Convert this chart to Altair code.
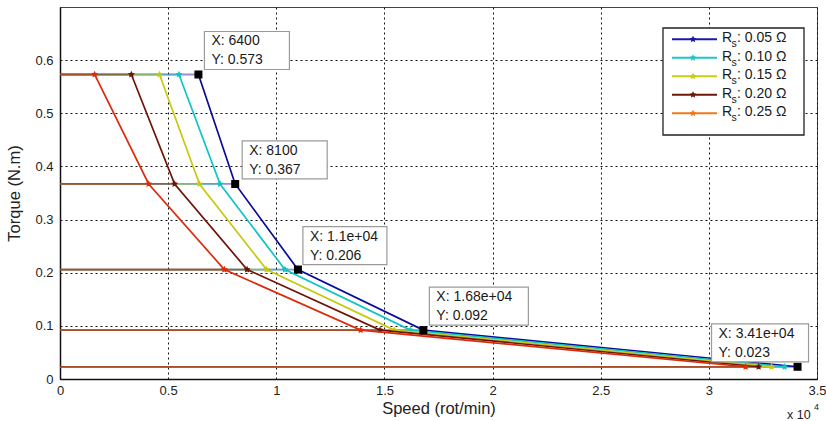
import altair as alt
import pandas as pd

# ---------------- data ----------------
torque = [0.573, 0.367, 0.206, 0.092, 0.023]
series_labels = ["0.05", "0.10", "0.15", "0.20", "0.25"]
speed_rs005 = [6400, 8100, 11000, 16800, 34100]
speed_rs010 = [5500, 7400, 10400, 16200, 33500]
speed_rs015 = [4600, 6450, 9550, 15450, 32900]
speed_rs020 = [3300, 5300, 8650, 14800, 32300]
speed_rs025 = [1600, 4100, 7600, 13900, 31700]
tip_x_text = ["6400", "8100", "1.1e+04", "1.68e+04", "3.41e+04"]
tip_y_text = ["0.573", "0.367", "0.206", "0.092", "0.023"]
x_ticks = [0, 5000, 10000, 15000, 20000, 25000, 30000, 35000]
y_ticks = [0, 0.1, 0.2, 0.3, 0.4, 0.5, 0.6]

speeds = [speed_rs005, speed_rs010, speed_rs015, speed_rs020, speed_rs025]
colors = ["#0a0a9a", "#10c4c4", "#c8c810", "#6e1406", "#dd2a0a"]
legend_colors = ["#1a1aa6", "#20c6c6", "#cccc10", "#701808", "#ee7a18"]

W, H = 757, 372
FONT = "Liberation Sans"

xs = alt.Scale(domain=[0, 35000], nice=False, zero=False)
ys = alt.Scale(domain=[0, 0.7], nice=False, zero=False)

star = ("M0,-1L0.294,-0.405L0.951,-0.309L0.476,0.155L0.588,0.809L0,0.5"
        "L-0.588,0.809L-0.476,0.155L-0.951,-0.309L-0.294,-0.405Z")

# base (axes + grid)
base_df = pd.DataFrame({"speed": [0, 35000], "torque": [0, 0.7]})
base = alt.Chart(base_df).mark_point(opacity=0).encode(
    x=alt.X("speed:Q", scale=xs, title="Speed (rot/min)",
            axis=alt.Axis(values=x_ticks, labelExpr="datum.value/10000",
                          grid=True, gridDash=[2, 3], gridColor="#111", gridWidth=1,
                          domainColor="#111", domainWidth=1.5, ticks=False,
                          labelFontSize=13, labelColor="#222", labelFont=FONT,
                          labelPadding=5, titleFont=FONT, titleFontSize=16.5,
                          titleFontWeight="normal", titleColor="#222", titlePadding=3,
                          labelFlush=False, labelOverlap=False)),
    y=alt.Y("torque:Q", scale=ys, title="Torque (N.m)",
            axis=alt.Axis(values=y_ticks, format="~g", grid=True, gridDash=[2, 3],
                          gridColor="#111", gridWidth=1, domainColor="#111",
                          domainWidth=1.5, ticks=False,
                          labelFontSize=13, labelColor="#222", labelFont=FONT,
                          labelPadding=7, titleFont=FONT, titleFontSize=16.5,
                          titleFontWeight="normal", titleColor="#222", titlePadding=12,
                          labelFlush=False)),
)

layers = [base]

# series, drawn from 0.05 (bottom) to 0.25 (top)
for i, (sp, col) in enumerate(zip(speeds, colors)):
    df = pd.DataFrame({"speed": sp, "torque": torque, "k": list(range(len(sp)))})
    hz = alt.Chart(df).transform_calculate(x0="0").mark_rule(
        color=col, strokeWidth=1.8, opacity=0.45).encode(
        x=alt.X("x0:Q", scale=xs), x2="speed:Q", y=alt.Y("torque:Q", scale=ys))
    ln = alt.Chart(df).mark_line(color=col, strokeWidth=1.7).encode(
        x=alt.X("speed:Q", scale=xs), y=alt.Y("torque:Q", scale=ys), order="k:Q")
    pt = alt.Chart(df).mark_point(shape=star, size=55, filled=True, color=col, opacity=1).encode(
        x=alt.X("speed:Q", scale=xs), y=alt.Y("torque:Q", scale=ys))
    layers += [hz, ln, pt]

# data tips on the Rs = 0.05 curve
tips = pd.DataFrame({"speed": speed_rs005, "torque": torque,
                     "xt": ["X: " + t for t in tip_x_text],
                     "yt": ["Y: " + t for t in tip_y_text]})
sq = alt.Chart(tips).mark_point(shape="square", size=64, filled=True, color="black", opacity=1).encode(
    x=alt.X("speed:Q", scale=xs), y=alt.Y("torque:Q", scale=ys))
layers.append(sq)

box_left = [6, 7, 5, 6, -86]
box_w = [85, 85, 84, 99, 97]
for j in range(len(tips)):
    row = tips.iloc[[j]]
    l = box_left[j]
    r = l + box_w[j]
    rect = alt.Chart(row).mark_rect(fill="white", stroke="#9a9a9a", strokeWidth=1.2,
                                    xOffset=l, x2Offset=r, yOffset=-43, y2Offset=-5).encode(
        x=alt.X("speed:Q", scale=xs), x2="speed:Q",
        y=alt.Y("torque:Q", scale=ys), y2="torque:Q")
    t1 = alt.Chart(row).mark_text(align="left", baseline="middle", dx=l + 7, dy=-33,
                                  font=FONT, fontSize=14, color="#1a1a1a").encode(
        x=alt.X("speed:Q", scale=xs), y=alt.Y("torque:Q", scale=ys), text="xt:N")
    t2 = alt.Chart(row).mark_text(align="left", baseline="middle", dx=l + 7, dy=-14,
                                  font=FONT, fontSize=14, color="#1a1a1a").encode(
        x=alt.X("speed:Q", scale=xs), y=alt.Y("torque:Q", scale=ys), text="yt:N")
    layers += [rect, t1, t2]

# legend (drawn manually)
one = pd.DataFrame({"a": [0]})
LX0, LY0 = 663 - 60, 28 - 7
layers.append(alt.Chart(one).mark_rect(fill="white", stroke="#222", strokeWidth=1.3).encode(
    x=alt.value(LX0), x2=alt.value(804 - 60), y=alt.value(LY0), y2=alt.value(135 - 7)))
for i, (lab, col) in enumerate(zip(series_labels, legend_colors)):
    yc = 39.3 - 7 + i * 18.5
    layers.append(alt.Chart(one).mark_rule(color=col, strokeWidth=2).encode(
        x=alt.value(672 - 60), x2=alt.value(717 - 60), y=alt.value(yc)))
    layers.append(alt.Chart(one).mark_point(shape=star, size=50, filled=True, color=col, opacity=1).encode(
        x=alt.value(693 - 60), y=alt.value(yc)))
    layers.append(alt.Chart(one).mark_text(align="left", baseline="middle", font=FONT,
                                           fontSize=14, color="#1a1a1a").encode(
        x=alt.value(722 - 60), y=alt.value(yc - 1), text=alt.value("R")))
    layers.append(alt.Chart(one).mark_text(align="left", baseline="middle", font=FONT,
                                           fontSize=10.5, color="#1a1a1a").encode(
        x=alt.value(731.5 - 60), y=alt.value(yc + 5), text=alt.value("s")))
    layers.append(alt.Chart(one).mark_text(align="left", baseline="middle", font=FONT,
                                           fontSize=14, color="#1a1a1a").encode(
        x=alt.value(737 - 60), y=alt.value(yc - 1), text=alt.value(": " + lab + " \u03a9")))

# x 10^4 exponent label
layers.append(alt.Chart(one).mark_text(align="left", baseline="middle", font=FONT,
                                       fontSize=12.5, color="#222").encode(
    x=alt.value(787 - 60), y=alt.value(415 - 7), text=alt.value("x 10")))
layers.append(alt.Chart(one).mark_text(align="left", baseline="middle", font=FONT,
                                       fontSize=9, color="#222").encode(
    x=alt.value(814 - 60), y=alt.value(407 - 7), text=alt.value("4")))

chart = alt.layer(*layers).properties(
    width=W, height=H,
    padding={"left": 60, "top": 7, "right": 9, "bottom": 42},
    autosize=alt.AutoSizeParams(type="none"),
    background="white",
).configure_view(stroke="#444", strokeWidth=1)

chart.save("out.html", embed_options={"renderer": "svg", "actions": False})
